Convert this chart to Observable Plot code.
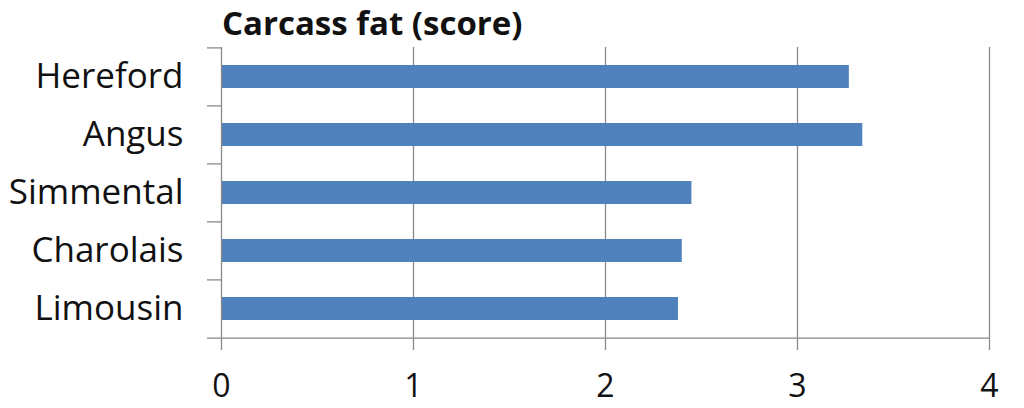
<!DOCTYPE html>
<html>
<head>
<meta charset="utf-8">
<script src="https://cdn.jsdelivr.net/npm/d3@7"></script>
<script src="https://cdn.jsdelivr.net/npm/@observablehq/plot@0.6"></script>
<style>
  html, body { margin: 0; padding: 0; background: #fff; }
  #title { height: 44px; line-height: 50px; padding-left: 222px; font: bold 33px "Open Sans", sans-serif; color: #111; white-space: nowrap; box-sizing: border-box; overflow: visible; }
  svg { display: block; }
</style>
</head>
<body>
<div id="title">Carcass fat (score)</div>
<div id="chart"></div>
<script>
const breeds = ["Hereford", "Angus", "Simmental", "Charolais", "Limousin"];
const fatScore = [3.27, 3.34, 2.45, 2.40, 2.38];
const xTicks = [0, 1, 2, 3, 4];
const gridTicks = [1, 2, 3, 4];

const data = breeds.map((b, i) => ({breed: b, value: fatScore[i]}));

const height = 364, marginTop = 3, marginBottom = 70;
const step = (height - marginTop - marginBottom) / (breeds.length - 0.6 + 0.6);
const gray = "#8a8a8a";

const chart = Plot.plot({
  width: 1024,
  height,
  marginTop,
  marginBottom,
  marginLeft: 221,
  marginRight: 35,
  style: {fontFamily: "'Open Sans', sans-serif", color: "#111", background: "#fff"},
  x: {domain: [0, 4]},
  y: {domain: breeds, paddingInner: 0.6, paddingOuter: 0.3},
  marks: [
    Plot.ruleX(gridTicks, {stroke: gray, strokeWidth: 1.3, strokeOpacity: 1}),
    Plot.barX(data, {x: "value", y: "breed", fill: "#4F81BD"}),
    Plot.ruleX([0], {stroke: gray, strokeWidth: 1.3}),
    Plot.ruleY(breeds, {y: d => d, dy: -step / 2, x1: -0.073, x2: 0, stroke: gray, strokeWidth: 1.3}),
    Plot.ruleY([breeds[breeds.length - 1]], {y: d => d, dy: step / 2, x1: -0.073, x2: 4, stroke: gray, strokeWidth: 1.3}),
    Plot.axisX(xTicks, {tickSize: 12, tickPadding: 24, fontSize: 32, stroke: gray, strokeWidth: 1.3, tickFormat: d => String(d), label: null}),
    Plot.axisY({tickSize: 0, tickPadding: 38, fontSize: 35, label: null})
  ]
});
document.getElementById("chart").appendChild(chart);
</script>
</body>
</html>
